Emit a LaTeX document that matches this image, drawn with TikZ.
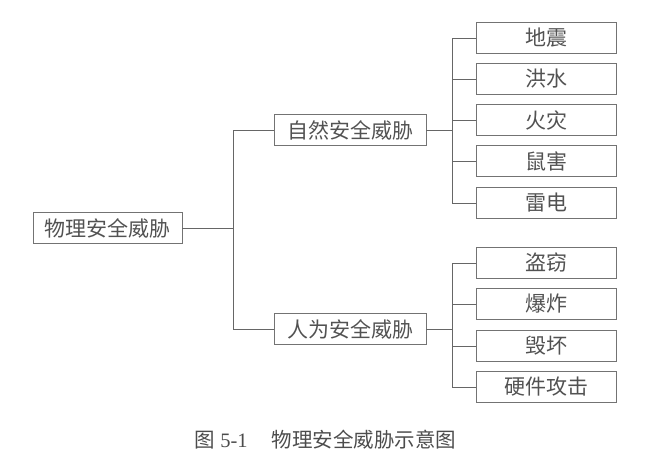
\documentclass[tikz,border=0pt]{standalone}
\usepackage{fontspec}
\setmainfont{Liberation Serif}
\newfontfamily\cjk{Noto Sans CJK SC}
\usetikzlibrary{positioning,calc}

\begin{document}
\begin{tikzpicture}[x=1pt, y=-1pt,
  threat/.style={draw=black!55, line width=0.9pt, text=black!68, minimum height=31pt, inner sep=0pt, font=\cjk\fontsize{21}{21}\selectfont},
  link/.style={draw=black!60, line width=0.9pt}]
  \useasboundingbox (0,0) rectangle (657,469);
  % root and the two groups
  \node[threat, minimum width=149pt] (root) at (107.5,228) {物理安全威胁};
  \node[threat, minimum width=152pt] (nat) at (350,130) {自然安全威胁};
  \node[threat, minimum width=152pt] (hum) at (350,329) {人为安全威胁};
  % leaves
  \foreach \n/\y/\t in {quake/38/地震, flood/79/洪水, fire/120/火灾, rat/161/鼠害, thunder/203/雷电,
                        theft/263/盗窃, blast/304/爆炸, wreck/346/毁坏, hwatk/387/硬件攻击}
    { \node[threat, minimum width=140pt] (\n) at (546.5,\y) {\t}; }
  % connectors
  \draw[link] (root.east) -- ++(51,0) coordinate (rj);
  \draw[link] (nat.west) -| (rj);
  \draw[link] (hum.west) -| (rj);
  \draw[link] (nat.east) -- ++(26,0) coordinate (nj);
  \foreach \n in {quake, flood, fire, rat, thunder} { \draw[link] (\n.west) -| (nj); }
  \draw[link] (hum.east) -- ++(26,0) coordinate (hj);
  \foreach \n in {theft, blast, wreck, hwatk} { \draw[link] (\n.west) -| (hj); }
  \node[text=black!70, font=\fontsize{20.5}{20.5}\selectfont] (cap) at (325.5,440) {{\cjk 图} 5-1\hspace{24pt}{\cjk 物理安全威胁示意图}};
\end{tikzpicture}
\end{document}
